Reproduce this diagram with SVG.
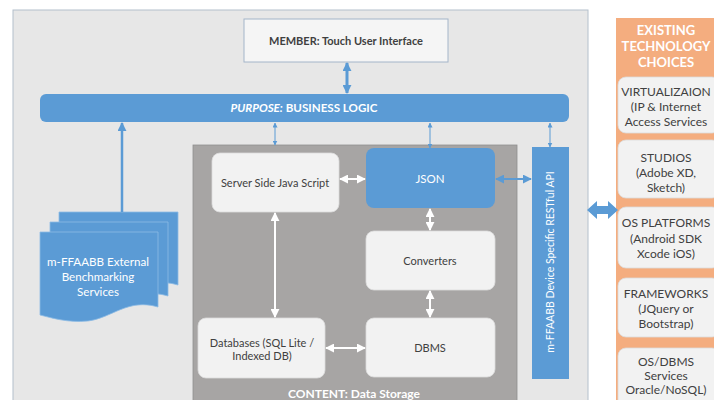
<svg xmlns="http://www.w3.org/2000/svg" width="714" height="400" viewBox="0 0 714 400">
<defs>
<style>
.t{font-family:Lato,"Open Sans","Liberation Sans",sans-serif;font-size:11px;text-anchor:middle;fill:#404040}
.s{font-size:12px}
.w{fill:#ffffff}
.b{font-weight:bold}
.box{fill:#f2f2f2;stroke:#dcdcdc;stroke-width:0.8}
.blue{fill:#5b9bd5}
.doc{fill:#5b9bd5;stroke:#8dbbe4;stroke-width:0.8}
.wl{stroke:#ffffff;stroke-width:2;fill:none}
.bl{stroke:#5b9bd5;fill:none}
</style>
<marker id="wh" viewBox="0 0 10 10" refX="9" refY="5" markerWidth="9" markerHeight="9" markerUnits="userSpaceOnUse" orient="auto-start-reverse"><path d="M0,0 L10,5 L0,10 Z" fill="#ffffff"/></marker>
<marker id="bh" viewBox="0 0 10 10" refX="9" refY="5" markerWidth="9" markerHeight="9" markerUnits="userSpaceOnUse" orient="auto-start-reverse"><path d="M0,0 L10,5 L0,10 Z" fill="#5b9bd5"/></marker>
<marker id="bs" viewBox="0 0 10 10" refX="9" refY="5" markerWidth="5" markerHeight="5" markerUnits="userSpaceOnUse" orient="auto-start-reverse"><path d="M0,0 L10,5 L0,10 Z" fill="#5b9bd5"/></marker>
</defs>
<rect width="714" height="400" fill="#ffffff"/>
<g id="panel"><rect x="13" y="10" width="575" height="400" fill="#e7e7e7" stroke="#b4c0cc" stroke-width="1"/></g>
<g id="member"><rect x="244" y="19" width="204" height="43" fill="#f5f5f5" stroke="#a4b5c9" stroke-width="1"/><text class="t b" x="346" y="45">MEMBER: Touch User Interface</text></g>
<g id="business-logic"><rect x="40" y="94" width="529" height="28" rx="6" class="blue"/><text class="t w b" x="304" y="112" style="font-size:11.6px"><tspan font-style="italic">PURPOSE:</tspan> BUSINESS LOGIC</text></g>
<g id="external-services">
<path d="M59,212 H178 V285 C148,276 132,296 107,299 C87,301 71,296 59,293 Z" class="doc"/>
<path d="M50,222 H168 V296 C138,287 122,307 97,310 C77,312 61,307 50,304 Z" class="doc"/>
<path d="M40,232 H158 V307 C128,298 112,318 88,321 C68,323 52,318 40,315 Z" class="doc"/>
<text class="t w" x="98" y="266" style="font-size:11.6px">m-FFAABB External</text>
<text class="t w" x="98" y="281" style="font-size:11.6px">Benchmarking</text>
<text class="t w" x="98" y="296" style="font-size:11.6px">Services</text>
</g>
<g id="content"><rect x="193" y="145" width="324" height="265" fill="#a7a5a4" stroke="#8f8f8f" stroke-width="0.8"/><text class="t w b" x="354" y="398" style="font-size:12px">CONTENT: Data Storage</text></g>
<g id="server-js"><rect x="212" y="153" width="127" height="59" rx="8" class="box"/><text class="t" x="275" y="187">Server  Side Java Script</text></g>
<g id="json"><rect x="366" y="148" width="129" height="60" rx="8" class="blue"/><text class="t w" x="430" y="183" style="font-size:11.5px">JSON</text></g>
<g id="converters"><rect x="366" y="231" width="129" height="59" rx="8" class="box"/><text class="t" x="430" y="265">Converters</text></g>
<g id="dbms"><rect x="366" y="318" width="129" height="59" rx="8" class="box"/><text class="t" x="430" y="352">DBMS</text></g>
<g id="databases"><rect x="198" y="318" width="127" height="60" rx="8" class="box"/><text class="t" x="262" y="347">Databases (SQL Lite /</text><text class="t" x="262" y="360">Indexed DB)</text></g>
<g id="api"><rect x="532" y="147" width="37" height="232" class="blue"/><text class="t w" transform="translate(554,262) rotate(-90)" style="font-size:10.5px">m-FFAABB Device Specific RESTful  API</text></g>
<g id="technology">
<rect x="616" y="18" width="100" height="392" fill="#f4ad7f"/>
<text class="t w b" x="666" y="35" style="font-size:13px">EXISTING</text>
<text class="t w b" x="666" y="51" style="font-size:13px">TECHNOLOGY</text>
<text class="t w b" x="666" y="67" style="font-size:13px">CHOICES</text>
<g id="virtualization"><rect x="618" y="77" width="102" height="56" rx="8" class="box"/><text class="t s" x="666" y="96">VIRTUALIZAION</text><text class="t s" x="666" y="111">(IP &amp; Internet</text><text class="t s" x="666" y="126">Access Services</text></g>
<g id="studios"><rect x="618" y="140" width="102" height="58" rx="8" class="box"/><text class="t s" x="666" y="162">STUDIOS</text><text class="t s" x="666" y="177">(Adobe XD,</text><text class="t s" x="666" y="192">Sketch)</text></g>
<g id="os-platforms"><rect x="618" y="207" width="102" height="61" rx="8" class="box"/><text class="t s" x="666" y="227">OS PLATFORMS</text><text class="t s" x="666" y="243">(Android SDK</text><text class="t s" x="666" y="258">Xcode iOS)</text></g>
<g id="frameworks"><rect x="618" y="278" width="102" height="59" rx="8" class="box"/><text class="t s" x="666" y="298">FRAMEWORKS</text><text class="t s" x="666" y="313">(JQuery or</text><text class="t s" x="666" y="328">Bootstrap)</text></g>
<g id="os-dbms"><rect x="618" y="348" width="102" height="62" rx="8" class="box"/><text class="t s" x="666" y="366">OS/DBMS</text><text class="t s" x="666" y="380">Services</text><text class="t s" x="666" y="394">Oracle/NoSQL)</text></g>
</g>
<g id="connectors">
<line x1="347" y1="63" x2="347" y2="93" class="bl" stroke-width="3" marker-start="url(#bh)" marker-end="url(#bh)"/>
<line x1="122" y1="212" x2="122" y2="123" class="bl" stroke-width="2.5" marker-end="url(#bh)"/>
<line x1="275" y1="145" x2="275" y2="123" class="bl" stroke-width="1" marker-start="url(#bs)" marker-end="url(#bs)"/>
<line x1="430" y1="148" x2="430" y2="123" class="bl" stroke-width="1" marker-start="url(#bs)" marker-end="url(#bs)"/>
<line x1="550" y1="147" x2="550" y2="123" class="bl" stroke-width="1" marker-start="url(#bs)" marker-end="url(#bs)"/>
<line x1="340" y1="179" x2="365" y2="179" class="wl" marker-start="url(#wh)" marker-end="url(#wh)"/>
<line x1="496" y1="179" x2="531" y2="179" class="bl" stroke-width="2" marker-start="url(#bh)" marker-end="url(#bh)"/>
<line x1="275" y1="213" x2="275" y2="317" class="wl" marker-start="url(#wh)" marker-end="url(#wh)"/>
<line x1="430" y1="209" x2="430" y2="230" class="wl" marker-start="url(#wh)" marker-end="url(#wh)"/>
<line x1="430" y1="291" x2="430" y2="317" class="wl" marker-start="url(#wh)" marker-end="url(#wh)"/>
<line x1="326" y1="348" x2="365" y2="348" class="wl" marker-start="url(#wh)" marker-end="url(#wh)"/>
<path d="M587,210 L597,201 L597,206 L608,206 L608,201 L618,210 L608,219 L608,214 L597,214 L597,219 Z" class="blue"/>
</g>
</svg>
